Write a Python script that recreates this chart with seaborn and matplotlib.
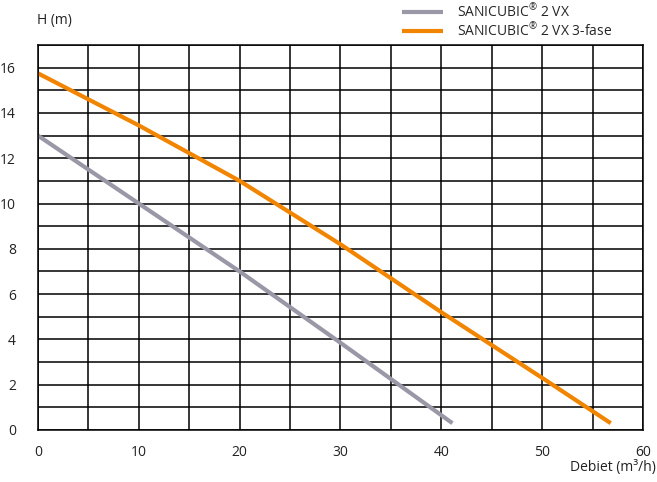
import numpy as np
import pandas as pd
import matplotlib
matplotlib.use("Agg")
import matplotlib.pyplot as plt
import seaborn as sns
from matplotlib.ticker import MultipleLocator

q_vx = [0, 10, 20, 30, 41.1]
h_vx = [13.0, 10.0, 7.0, 3.85, 0.3]
q_vx3 = [0, 10, 20, 30, 40, 50, 56.8]
h_vx3 = [15.75, 13.45, 11.0, 8.2, 5.2, 2.3, 0.3]
names = [r"SANICUBIC$^{\circledR}$ 2 VX", r"SANICUBIC$^{\circledR}$ 2 VX 3-fase"]
colors = ["#9a97a6", "#f28500"]

df = pd.concat([
    pd.DataFrame({"q": q_vx, "h": h_vx, "pomp": names[0]}),
    pd.DataFrame({"q": q_vx3, "h": h_vx3, "pomp": names[1]}),
])

sns.set_style("white")
plt.rcParams["font.family"] = ["Open Sans", "DejaVu Sans"]
plt.rcParams["mathtext.fontset"] = "custom"
plt.rcParams["mathtext.rm"] = "Open Sans"

fig = plt.figure(figsize=(6.57, 4.82), dpi=100)
ax = fig.add_axes([0.0578, 0.1079, 0.9209, 0.7987])

sns.lineplot(data=df, x="q", y="h", hue="pomp", palette=colors,
             linewidth=3.0, solid_capstyle="butt", ax=ax, legend=True, sort=False)

ax.set_xlim(0, 60)
ax.set_ylim(0, 17)
ax.xaxis.set_major_locator(MultipleLocator(10))
ax.xaxis.set_minor_locator(MultipleLocator(5))
ax.yaxis.set_major_locator(MultipleLocator(2))
ax.yaxis.set_minor_locator(MultipleLocator(1))
ax.grid(True, which="both", color="black", linewidth=1.1)
ax.set_axisbelow(True)
for s in ax.spines.values():
    s.set_color("black")
    s.set_linewidth(1.1)
ax.tick_params(which="both", length=0, labelsize=10, colors="#222222")
ax.tick_params(axis="x", pad=11)
ax.tick_params(axis="y", pad=16)
ax.set_xlabel("")
ax.set_ylabel("")

fig.text(0.057, 0.957, "H (m)", fontsize=10, color="#222222", va="center")
fig.text(0.998, 0.03, "Debiet (m³/h)", fontsize=10, color="#222222",
         ha="right", va="center")

h, l = ax.get_legend_handles_labels()
ax.legend(h, l, loc="upper left", bbox_to_anchor=(0.603, 1.004),
          bbox_transform=fig.transFigure, frameon=False, fontsize=10,
          handlelength=3.0, handletextpad=1.0, labelspacing=0.1,
          borderaxespad=0)

fig.savefig("out.png", dpi=100)
